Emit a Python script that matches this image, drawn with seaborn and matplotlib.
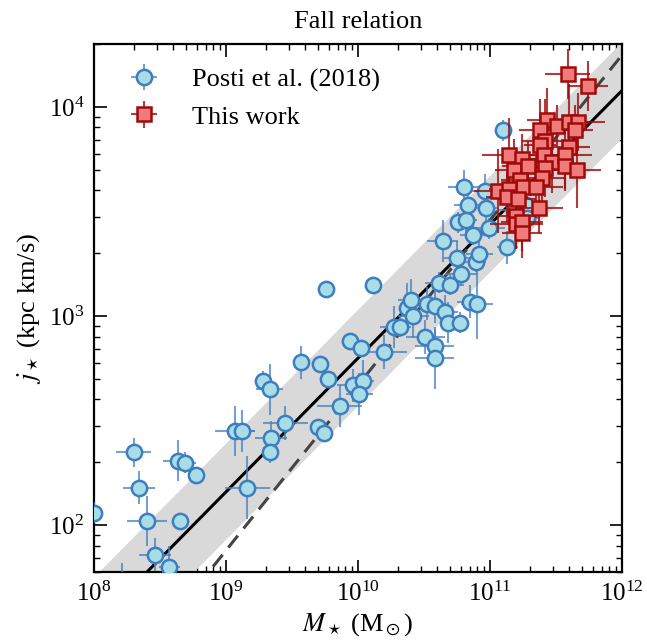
import numpy as np
import matplotlib
matplotlib.use("Agg")
import matplotlib.pyplot as plt
import seaborn as sns

# log10 stellar mass / log10 specific angular momentum
posti_logm = [8.00, 8.30, 8.34, 8.40, 8.46, 8.57, 8.64, 8.69, 8.77, 8.65,
              9.07, 9.12, 9.16, 9.28, 9.33, 9.34, 9.33, 9.45, 9.57, 9.71,
              9.77, 9.70, 9.74, 9.76, 9.86, 9.94, 10.02, 9.96, 10.04, 10.01,
              10.11, 10.20, 10.27, 10.32, 10.37, 10.40, 10.42, 10.52, 10.58, 10.66,
              10.68, 10.77, 10.51, 10.58, 10.58, 10.85, 10.90, 10.61, 10.70, 10.78,
              10.75, 10.89, 10.92, 10.64, 11.13, 10.87, 10.99, 10.76, 10.82, 10.83,
              10.97, 10.80, 10.96, 11.10, 11.18, 11.27, 11.28, 8.21]
posti_logj = [2.06, 2.35, 2.18, 2.02, 1.86, 1.80, 2.31, 2.30, 2.24, 2.02,
              2.45, 2.45, 2.18, 2.69, 2.65, 2.42, 2.35, 2.49, 2.78, 2.77,
              2.70, 2.47, 2.44, 3.13, 2.57, 2.88, 2.85, 2.67, 2.69, 2.63,
              3.15, 2.83, 2.95, 2.95, 3.04, 3.08, 3.00, 3.06, 3.05, 3.02,
              2.97, 2.97, 2.90, 2.86, 2.80, 3.07, 3.06, 3.16, 3.15, 3.20,
              3.28, 3.26, 3.30, 3.36, 3.33, 3.39, 3.42, 3.45, 3.46, 3.53,
              3.52, 3.62, 3.60, 3.89, 3.51, 3.53, 3.47, 1.70]
posti_xerr = [0.05, 0.13, 0.12, 0.15, 0.12, 0.08, 0.12, 0.08, 0.05, 0.05,
              0.15, 0.10, 0.17, 0.05, 0.10, 0.12, 0.05, 0.17, 0.05, 0.05,
              0.05, 0.05, 0.05, 0.06, 0.17, 0.05, 0.05, 0.12, 0.08, 0.10,
              0.05, 0.17, 0.10, 0.08, 0.05, 0.10, 0.12, 0.15, 0.12, 0.10,
              0.05, 0.05, 0.15, 0.15, 0.15, 0.10, 0.12, 0.10, 0.10, 0.12,
              0.10, 0.08, 0.10, 0.12, 0.08, 0.10, 0.12, 0.05, 0.08, 0.10,
              0.08, 0.12, 0.15, 0.05, 0.12, 0.10, 0.10, 0.05]
posti_yerr = [0.05, 0.07, 0.08, 0.12, 0.08, 0.10, 0.10, 0.05, 0.03, 0.03,
              0.12, 0.10, 0.15, 0.05, 0.12, 0.08, 0.05, 0.08, 0.08, 0.03,
              0.03, 0.03, 0.03, 0.04, 0.10, 0.03, 0.03, 0.08, 0.10, 0.10,
              0.03, 0.08, 0.10, 0.05, 0.12, 0.10, 0.10, 0.08, 0.08, 0.08,
              0.10, 0.05, 0.08, 0.08, 0.15, 0.08, 0.17, 0.05, 0.05, 0.05,
              0.08, 0.05, 0.08, 0.10, 0.08, 0.05, 0.05, 0.05, 0.08, 0.10,
              0.08, 0.08, 0.08, 0.05, 0.10, 0.10, 0.10, 0.12]

work_logm = [11.59, 11.74, 11.43, 11.51, 11.60, 11.67, 11.64, 11.38, 11.42, 11.38,
             11.14, 11.24, 11.41, 11.47, 11.60, 11.57, 11.57, 11.66, 11.18, 11.29,
             11.42, 11.23, 11.39, 11.25, 11.35, 11.06, 11.14, 11.13, 11.21, 11.37,
             11.20, 11.20, 11.24, 11.24]
work_logj = [4.16, 4.10, 3.94, 3.91, 3.93, 3.93, 3.89, 3.89, 3.84, 3.82,
             3.77, 3.75, 3.77, 3.74, 3.81, 3.77, 3.72, 3.70, 3.70, 3.72,
             3.71, 3.65, 3.66, 3.62, 3.62, 3.60, 3.61, 3.57, 3.56, 3.52,
             3.48, 3.44, 3.45, 3.40]
work_xerr = [0.17, 0.15, 0.15, 0.18, 0.16, 0.20, 0.14, 0.16, 0.18, 0.12,
             0.20, 0.15, 0.18, 0.14, 0.16, 0.20, 0.15, 0.18, 0.14, 0.20,
             0.16, 0.15, 0.18, 0.14, 0.20, 0.18, 0.15, 0.16, 0.14, 0.18,
             0.15, 0.20, 0.16, 0.15]
work_yerr = [0.12, 0.12, 0.15, 0.10, 0.18, 0.14, 0.12, 0.15, 0.20, 0.10,
             0.18, 0.12, 0.14, 0.15, 0.10, 0.16, 0.12, 0.18, 0.15, 0.12,
             0.14, 0.10, 0.16, 0.12, 0.15, 0.20, 0.14, 0.12, 0.15, 0.12,
             0.16, 0.12, 0.14, 0.12]

# relations: log j = norm + slope * (log M - 11)
fit_norm, fit_slope, fit_scatter = 3.44, 0.64, 0.23
dash_norm, dash_slope = 3.46, 0.79

sns.set_style("ticks", {"axes.edgecolor": "black", "xtick.color": "black",
                        "ytick.color": "black", "text.color": "black",
                        "axes.labelcolor": "black"})
plt.rcParams["font.family"] = ["Liberation Serif", "DejaVu Serif"]
plt.rcParams["mathtext.fontset"] = "stix"

fig, ax = plt.subplots(figsize=(6.47, 6.42), dpi=100)
fig.subplots_adjust(left=0.1453, right=0.9614, bottom=0.1095, top=0.931)
ax.set_xscale("log")
ax.set_yscale("log")

lm = np.linspace(7.9, 12.1, 100)
fit = fit_norm + fit_slope * (lm - 11)
ax.fill_between(10**lm, 10**(fit - fit_scatter), 10**(fit + fit_scatter),
                color="#d9d9d9", lw=0, zorder=1)
sns.lineplot(x=10**lm, y=10**fit, color="black", lw=2.2, ax=ax, zorder=2)
sns.lineplot(x=10**lm, y=10**(dash_norm + dash_slope * (lm - 11)), color="#444444",
             lw=2.2, ax=ax, zorder=2).lines[-1].set_dashes([5, 3])


def logerr(v, e):
    v = np.asarray(v)
    e = np.asarray(e)
    return np.vstack([10**v - 10**(v - e), 10**(v + e) - 10**v])


ax.errorbar(10**np.array(posti_logm), 10**np.array(posti_logj),
            xerr=logerr(posti_logm, posti_xerr), yerr=logerr(posti_logj, posti_yerr),
            fmt="o", ms=11, mfc="#a8dce6", mec="#3d7ebf", mew=1.8,
            ecolor=(0.27, 0.51, 0.75, 0.75), elinewidth=1.5, capsize=0,
            label="Posti et al. (2018)", zorder=3)
ax.errorbar(10**np.array(work_logm), 10**np.array(work_logj),
            xerr=logerr(work_logm, work_xerr), yerr=logerr(work_logj, work_yerr),
            fmt="s", ms=10, mfc="#f07b7b", mec="#a00a0a", mew=1.8,
            ecolor=(0.63, 0.04, 0.04, 0.8), elinewidth=1.5, capsize=0,
            label="This work", zorder=4)

ax.set_xlim(1e8, 1e12)
ax.set_ylim(60, 2e4)
ax.set_title("Fall relation", fontsize=19, pad=12)
ax.set_xlabel(r"$M_\star$ (M$_\odot$)", fontsize=19)
ax.set_ylabel(r"$j_\star$ (kpc km/s)", fontsize=19)
ax.tick_params(which="both", direction="in", top=True, right=True, labelsize=18, pad=7)
ax.tick_params(which="major", length=9, width=1.2)
ax.tick_params(which="minor", length=4.5, width=1.0)
for s in ax.spines.values():
    s.set_linewidth(1.6)

ax.legend(loc="upper left", frameon=False, fontsize=19)

fig.savefig("out.png", dpi=100)
